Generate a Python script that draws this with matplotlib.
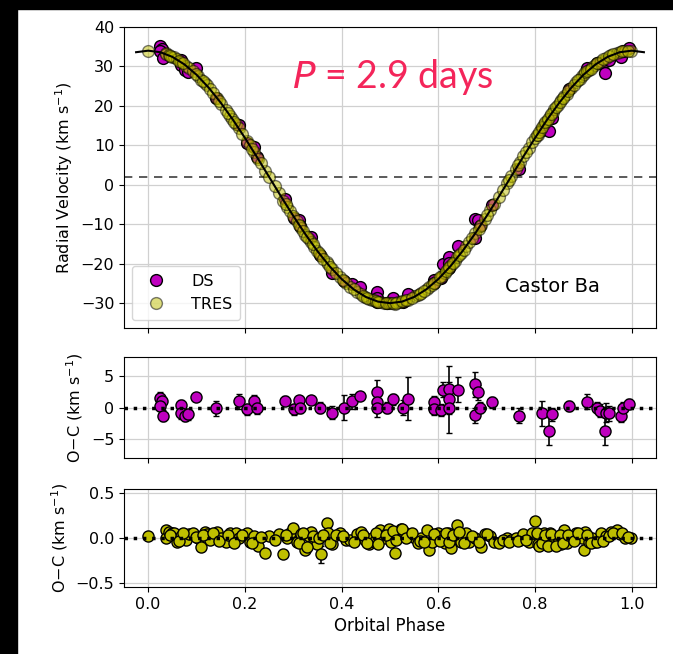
import matplotlib
matplotlib.use("Agg")
import matplotlib.pyplot as plt
from matplotlib.patches import Rectangle

# model curve (phase, km/s)
curve_phase = [-0.025, 0.0, 0.025, 0.05, 0.075, 0.1, 0.125, 0.15, 0.175, 0.2, 0.225,
               0.25, 0.275, 0.3, 0.325, 0.35, 0.375, 0.4, 0.425, 0.45, 0.475, 0.5,
               0.525, 0.55, 0.575, 0.6, 0.625, 0.65, 0.675, 0.7, 0.725, 0.75,
               0.775, 0.8, 0.825, 0.85, 0.875, 0.9, 0.925, 0.95, 0.975, 1.0, 1.025]
curve_rv = [33.61, 34.0, 33.61, 32.43, 30.51, 27.89, 24.63, 20.81, 16.53, 11.89, 7.01,
            2.0, -3.01, -7.89, -12.53, -16.81, -20.63, -23.89, -26.51, -28.43, -29.61, -30.0,
            -29.61, -28.43, -26.51, -23.89, -20.63, -16.81, -12.53, -7.89, -3.01, 2.0,
            7.01, 11.89, 16.53, 20.81, 24.63, 27.89, 30.51, 32.43, 33.61, 34.0, 33.61]
gamma = 2.0

# DS data
ds_phase = [0.025, 0.028, 0.025, 0.030, 0.067, 0.067, 0.076, 0.083, 0.099, 0.141,
            0.188, 0.205, 0.218, 0.225, 0.283, 0.301, 0.312, 0.314, 0.336, 0.356,
            0.381, 0.405, 0.421, 0.439, 0.474, 0.474, 0.474, 0.494, 0.507, 0.526,
            0.538, 0.590, 0.592, 0.605, 0.609, 0.622, 0.622, 0.622, 0.640, 0.676,
            0.682, 0.676, 0.687, 0.710, 0.766, 0.815, 0.834, 0.829, 0.871, 0.907,
            0.928, 0.935, 0.946, 0.944, 0.953, 0.977, 0.982, 0.995]
ds_rv = [35.1, 34.5, 33.9, 32.1, 31.6, 30.3, 29.1, 28.6, 29.7, 22.1,
         15.1, 10.6, 9.5, 7.0, -3.5, -8.4, -9.0, -10.5, -13.3, -17.8,
         -22.3, -24.5, -25.2, -25.8, -27.2, -28.8, -29.6, -30.0, -28.7, -29.6,
         -27.6, -24.1, -25.0, -23.7, -20.0, -18.2, -19.8, -21.1, -15.6, -8.6,
         -8.9, -13.5, -10.4, -5.2, 3.9, 13.8, 17.0, 13.6, 24.3, 29.6,
         30.8, 30.9, 31.4, 28.4, 31.7, 32.4, 33.8, 34.6]
ds_oc = [1.5, 1.0, 0.25, -1.3, 0.35, -0.9, -1.3, -1.1, 1.7, -0.15,
         1.0, -0.3, 1.1, 0.0, 1.1, -0.3, 1.2, 0.0, 1.2, 0.0,
         -0.8, 0.0, 1.0, 1.9, 2.4, 0.8, 0.0, 0.0, 1.3, 0.0,
         1.4, 0.9, -0.2, -0.4, 2.8, 2.9, 1.3, 0.0, 2.8, 3.7,
         2.4, -1.2, 0.0, 0.8, -1.3, -0.9, -1.1, -3.7, 0.25, 0.9,
         0.0, -0.5, -0.8, -3.7, -0.9, -1.3, 0.0, 0.6]
ds_err = [1.0, 0.8, 0.8, 0.9, 0.8, 0.9, 0.9, 0.9, 0.6, 1.2,
          1.2, 0.9, 0.9, 1.0, 0.7, 0.9, 0.7, 0.9, 0.7, 0.8,
          1.0, 2.0, 1.2, 0.6, 1.9, 1.5, 1.5, 0.8, 0.9, 1.2,
          3.4, 1.0, 1.0, 0.9, 1.2, 1.2, 5.3, 1.0, 2.0, 2.0,
          1.2, 1.2, 0.9, 0.8, 1.2, 2.0, 1.0, 2.2, 0.8, 1.2,
          0.9, 1.0, 1.5, 2.2, 1.2, 1.0, 0.8, 0.7]

# TRES data
tres_phase = [0.0, 0.036, 0.036, 0.043, 0.05, 0.054, 0.059, 0.067, 0.079, 0.085,
              0.092, 0.103, 0.110, 0.117, 0.121, 0.128, 0.143, 0.151, 0.161, 0.170,
              0.174, 0.181, 0.187, 0.205, 0.210, 0.218, 0.227, 0.241, 0.250, 0.270,
              0.279, 0.288, 0.294, 0.300, 0.307, 0.316, 0.325, 0.332, 0.336, 0.343,
              0.350, 0.357, 0.369, 0.371, 0.380, 0.396, 0.409, 0.418, 0.432, 0.440,
              0.449, 0.457, 0.463, 0.467, 0.480, 0.487, 0.494, 0.498, 0.503, 0.510,
              0.516, 0.522, 0.529, 0.538, 0.552, 0.558, 0.565, 0.576, 0.581, 0.587,
              0.600, 0.607, 0.613, 0.619, 0.627, 0.634, 0.639, 0.647, 0.658, 0.664,
              0.676, 0.689, 0.696, 0.707, 0.716, 0.725, 0.742, 0.751, 0.760, 0.769,
              0.776, 0.787, 0.794, 0.799, 0.805, 0.812, 0.818, 0.824, 0.830, 0.836,
              0.840, 0.847, 0.854, 0.860, 0.865, 0.874, 0.885, 0.892, 0.898, 0.902,
              0.904, 0.911, 0.918, 0.924, 0.936, 0.947, 0.956, 0.969, 0.975, 0.986,
              0.998,
              0.046, 0.063, 0.072, 0.098, 0.113, 0.135, 0.147, 0.165, 0.178, 0.195,
              0.214, 0.233, 0.262, 0.284, 0.311, 0.320, 0.328, 0.340, 0.353, 0.362,
              0.376, 0.388, 0.402, 0.425, 0.445, 0.453, 0.471, 0.476, 0.491, 0.507,
              0.513, 0.525, 0.533, 0.545, 0.562, 0.571, 0.592, 0.604, 0.616, 0.623,
              0.631, 0.643, 0.652, 0.670, 0.683, 0.701, 0.734, 0.746, 0.765, 0.781,
              0.803, 0.808, 0.815, 0.821, 0.827, 0.833, 0.843, 0.851, 0.857, 0.869,
              0.880, 0.888, 0.908, 0.915, 0.928, 0.941, 0.952, 0.962, 0.980, 0.992]
tres_rv = [34.0, 33.3, 33.2, 32.9, 32.5, 32.3, 31.8, 31.2, 30.1, 29.5,
           28.9, 27.5, 26.6, 25.8, 25.2, 24.2, 22.0, 20.6, 19.0, 17.5,
           16.7, 15.5, 14.3, 11.0, 10.0, 8.4, 6.5, 3.6, 2.0, -2.0,
           -4.0, -5.6, -6.7, -7.8, -9.2, -10.9, -12.6, -13.8, -14.4, -15.7,
           -16.9, -18.1, -19.5, -20.0, -21.4, -23.3, -24.9, -25.8, -27.1, -27.7,
           -28.4, -28.9, -29.1, -29.3, -29.6, -29.9, -29.9, -29.9, -30.0, -30.1,
           -29.8, -29.6, -29.4, -29.1, -28.3, -28.0, -27.4, -26.3, -26.0, -25.3,
           -23.8, -23.0, -22.4, -21.4, -20.4, -19.3, -18.4, -17.3, -15.4, -14.5,
           -12.3, -10.1, -8.6, -6.5, -4.8, -3.1, 0.4, 2.2, 4.0, 5.8,
           7.2, 9.4, 10.8, 11.9, 12.7, 14.2, 15.4, 16.2, 17.5, 18.4,
           19.1, 20.2, 21.4, 22.5, 23.1, 24.5, 26.1, 26.9, 27.6, 28.0,
           28.5, 29.1, 29.8, 30.4, 31.5, 32.2, 32.9, 33.5, 33.6, 33.9,
           34.0,
           32.7, 31.5, 30.8, 28.1, 26.3, 23.2, 21.3, 18.3, 16.0, 12.8,
           9.2, 5.4, -0.4, -4.8, -10.1, -11.6, -13.2, -15.1, -17.3, -18.7,
           -20.9, -22.4, -24.1, -26.5, -28.1, -28.7, -29.5, -29.7, -29.9, -29.9,
           -29.9, -29.5, -29.3, -28.6, -27.6, -26.9, -24.8, -23.4, -21.9, -20.9,
           -19.8, -17.8, -16.5, -13.4, -11.1, -7.7, -1.2, 1.2, 5.0, 8.2,
           12.6, 13.3, 14.7, 15.8, 16.8, 17.9, 19.6, 21.0, 21.9, 23.7,
           25.3, 26.5, 28.8, 29.4, 30.8, 31.8, 32.6, 33.2, 33.8, 34.0]
tres_oc = [0.02, 0.09, 0.0, 0.07, 0.06, 0.06, -0.04, 0.02, -0.02, 0.04,
           0.06, 0.0, -0.1, 0.07, 0.04, -0.02, 0.07, 0.0, -0.04, 0.06,
           0.02, 0.06, 0.0, 0.06, -0.04, 0.02, -0.09, -0.16, 0.02, 0.04,
           -0.18, 0.0, 0.05, 0.11, -0.04, 0.04, -0.13, 0.02, 0.07, -0.04,
           -0.07, -0.18, 0.17, 0.06, -0.07, 0.06, -0.02, -0.02, 0.04, 0.07,
           -0.02, -0.07, 0.0, -0.04, 0.09, 0.0, 0.06, 0.1, -0.04, -0.16,
           0.04, 0.1, 0.07, 0.04, 0.0, -0.06, 0.0, 0.09, -0.13, -0.04,
           0.06, 0.02, -0.06, 0.06, -0.11, 0.0, 0.14, -0.04, 0.06, -0.04,
           0.0, -0.1, 0.04, 0.02, -0.04, -0.06, 0.0, -0.02, 0.0, -0.02,
           0.04, -0.04, 0.06, 0.19, -0.07, 0.02, 0.06, -0.07, 0.06, -0.07,
           0.0, -0.06, -0.07, 0.09, -0.06, 0.0, 0.06, 0.02, 0.0, -0.13,
           0.07, -0.04, 0.0, -0.04, 0.06, 0.02, 0.07, 0.09, 0.04, 0.0,
           0.0,
           0.03, -0.03, 0.05, 0.01, 0.03, 0.05, -0.03, 0.03, -0.05, 0.03,
           -0.05, 0.01, -0.02, 0.03, -0.06, 0.05, -0.1, 0.02, 0.0, 0.03,
           -0.05, 0.03, 0.02, -0.04, 0.03, -0.05, 0.05, -0.07, 0.03, 0.08,
           -0.02, 0.1, 0.0, 0.06, -0.03, -0.04, 0.04, -0.03, 0.05, -0.04,
           0.03, 0.07, -0.05, 0.02, -0.04, 0.04, -0.02, -0.04, -0.03, -0.02,
           0.05, -0.09, -0.05, 0.03, -0.09, 0.04, -0.09, 0.03, -0.05, 0.03,
           -0.03, 0.05, 0.03, -0.06, -0.04, -0.03, 0.02, 0.06, 0.05, 0.01]
tres_err = [0.02] * len(tres_phase)
tres_err[41] = 0.09

fig = plt.figure(figsize=(6.73, 6.54), dpi=100)
fig.add_artist(Rectangle((0, 0), 17 / 673, 1, transform=fig.transFigure,
                         color="black", zorder=-5))
fig.add_artist(Rectangle((0, 1 - 9 / 654), 1, 9 / 654, transform=fig.transFigure,
                         color="black", zorder=-5))

left, width = 124 / 673, 532 / 673
ax1 = fig.add_axes([left, 326 / 654, width, 301 / 654])
ax2 = fig.add_axes([left, 196 / 654, width, 101 / 654], sharex=ax1)
ax3 = fig.add_axes([left, 67 / 654, width, 98 / 654], sharex=ax1)

fs = 11.5
ax1.plot(ds_phase, ds_rv, 'o', color='m', mec='k', ms=8.5, label='DS', zorder=3)
ax1.plot(tres_phase, tres_rv, 'o', color='y', mec='k', ms=8.5, alpha=0.5,
         label='TRES', zorder=4)
ax1.plot(curve_phase, curve_rv, 'k-', lw=1.5, zorder=5)
ax1.axhline(gamma, color='k', ls='--', lw=1.2, alpha=0.75, dashes=(5, 4))
ax1.set_xlim(-0.05, 1.05)
ax1.set_ylim(-36.3, 40)
ax1.set_yticks([-30, -20, -10, 0, 10, 20, 30, 40])
ax1.set_ylabel(r'Radial Velocity (km s$^{-1}$)', fontsize=fs)
ax1.legend(loc='lower left', fontsize=fs, handletextpad=1.2, borderpad=0.5)
ax1.text(0.934, -25.7, 'Castor Ba', fontsize=14, ha='right', va='center')
ax1.text(0.505, 27.3, '$\\mathit{P}$ = 2.9 days', fontsize=27, color='#f4255a',
         ha='center', va='center', family='Lato')

ax2.errorbar(ds_phase, ds_oc, yerr=ds_err, fmt='o', color='m', mec='k', ms=8,
             ecolor='k', elinewidth=1.2, capsize=2.5, zorder=3)
ax2.axhline(0, color='k', ls=':', lw=2.5, zorder=6)
ax2.set_ylim(-8, 8)
ax2.set_yticks([-5, 0, 5])
ax2.set_ylabel(r'O$-$C (km s$^{-1}$)', fontsize=fs)

ax3.errorbar(tres_phase, tres_oc, yerr=tres_err, fmt='o', color='y', mec='k', ms=8,
             ecolor='k', elinewidth=1.2, capsize=2.5, zorder=3)
ax3.axhline(0, color='k', ls=':', lw=2.5, zorder=6)
ax3.set_ylim(-0.54, 0.54)
ax3.set_yticks([-0.5, 0.0, 0.5])
ax3.set_ylabel(r'O$-$C (km s$^{-1}$)', fontsize=fs)
ax3.set_xlabel('Orbital Phase', fontsize=12)

for ax in (ax1, ax2, ax3):
    ax.grid(True, color='#d0d0d0', lw=0.9)
    ax.set_axisbelow(True)
    ax.tick_params(labelsize=fs)
for ax in (ax1, ax2):
    ax.tick_params(labelbottom=False)

fig.align_ylabels([ax2, ax3])
fig.savefig('out.png', dpi=100)
